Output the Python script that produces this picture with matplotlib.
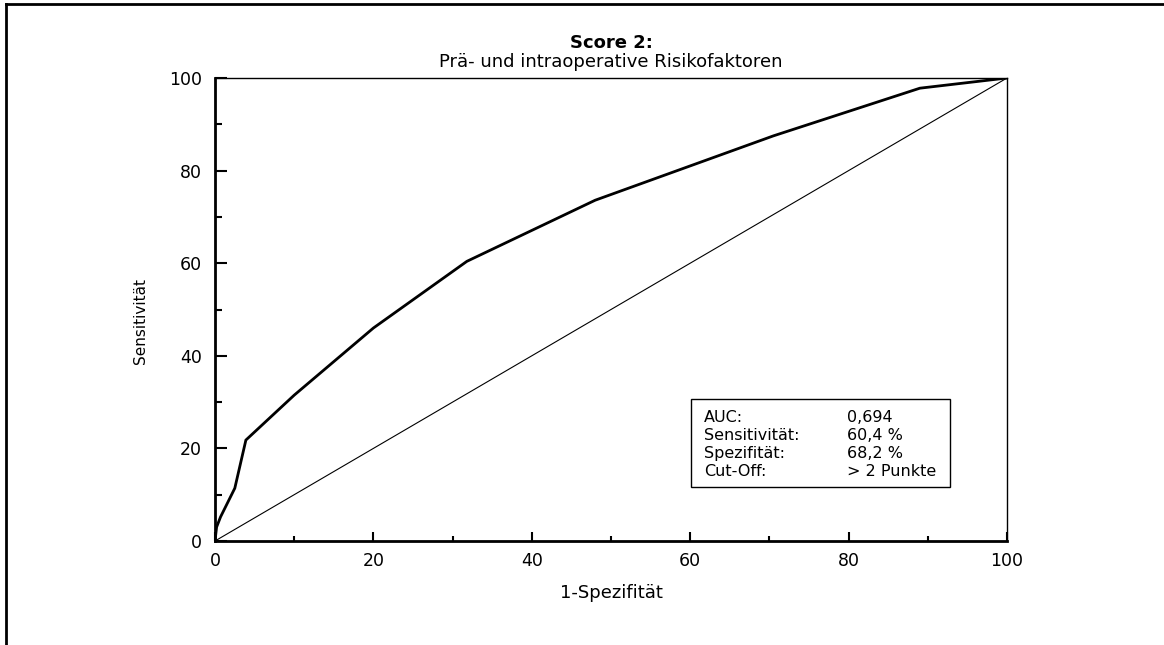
import numpy as np
import matplotlib.pyplot as plt
from matplotlib.lines import Line2D
from matplotlib.ticker import MultipleLocator

plt.rcParams['font.family'] = ['DejaVu Sans']

# ROC curve points (1-specificity, sensitivity) in %
fpr = [0, 0.2, 0.7, 2.5, 3.9, 10, 20, 31.8, 48, 70.5, 89, 100]
tpr = [0, 3, 5.2, 11.4, 21.8, 31.5, 46, 60.4, 73.6, 87.5, 97.8, 100]

stat_names = ['AUC:', 'Sensitivität:', 'Spezifität:', 'Cut-Off:']
stat_values = ['0,694', '60,4 %', '68,2 %', '> 2 Punkte']

W, H = 1164, 645
X0, X1, Y0, Y1 = 215, 1007, 541, 78   # axes box in pixels


def fx(px):
    return (px - X0) / (X1 - X0)


def fy(py):
    return (Y0 - py) / (Y0 - Y1)


fig = plt.figure(figsize=(W / 100, H / 100), dpi=100)
ax = fig.add_axes([X0 / W, 1 - Y0 / H, (X1 - X0) / W, (Y0 - Y1) / H])

ax.plot([0, 100], [0, 100], color='black', lw=0.8)
ax.plot(fpr, tpr, color='black', lw=2, solid_joinstyle='miter')

ax.set_xlim(0, 100)
ax.set_ylim(0, 100)
ax.xaxis.set_major_locator(MultipleLocator(20))
ax.xaxis.set_minor_locator(MultipleLocator(10))
ax.yaxis.set_major_locator(MultipleLocator(20))
ax.yaxis.set_minor_locator(MultipleLocator(10))
ax.tick_params(axis='x', which='major', direction='in', length=6.5, width=1.5, labelsize=12.5, pad=8)
ax.tick_params(axis='x', which='minor', direction='in', length=3.6, width=1.5)
ax.tick_params(axis='y', which='major', direction='in', length=8.6, width=1.5, labelsize=12.5, pad=9.4)
ax.tick_params(axis='y', which='minor', direction='in', length=5, width=1.5)
ax.spines['left'].set_linewidth(2)
ax.spines['bottom'].set_linewidth(2)
ax.spines['top'].set_linewidth(1)
ax.spines['right'].set_linewidth(1)

ax.set_xlabel('1-Spezifität', fontsize=13)
ax.xaxis.set_label_coords(0.5, fy(584))
ax.set_ylabel('Sensitivität', fontsize=11, va='center')
ax.yaxis.set_label_coords(fx(140), fy(321))

ax.text(0.5, fy(48.3), 'Score 2:', transform=ax.transAxes, ha='center', va='baseline',
        fontsize=13, fontweight='bold')
ax.text(0.5, fy(66.7), 'Prä- und intraoperative Risikofaktoren', transform=ax.transAxes,
        ha='center', va='baseline', fontsize=13)

# statistics box
ax.add_patch(plt.Rectangle((fx(691), fy(487)), fx(950) - fx(691), fy(399) - fy(487),
                           transform=ax.transAxes, fill=False, edgecolor='black', lw=1))
for i, (n, v) in enumerate(zip(stat_names, stat_values)):
    yy = fy(421.5 + i * 18.2)
    ax.text(fx(704), yy, n, transform=ax.transAxes, va='baseline', fontsize=11.5)
    ax.text(fx(847), yy, v, transform=ax.transAxes, va='baseline', fontsize=11.5)

# outer frame (left and top visible)
fig.add_artist(Line2D([6 / W, 6 / W], [0, 1 - 4 / H], color='black', lw=2))
fig.add_artist(Line2D([6 / W, 1], [1 - 4 / H, 1 - 4 / H], color='black', lw=2))

fig.savefig('out.png', dpi=100)
